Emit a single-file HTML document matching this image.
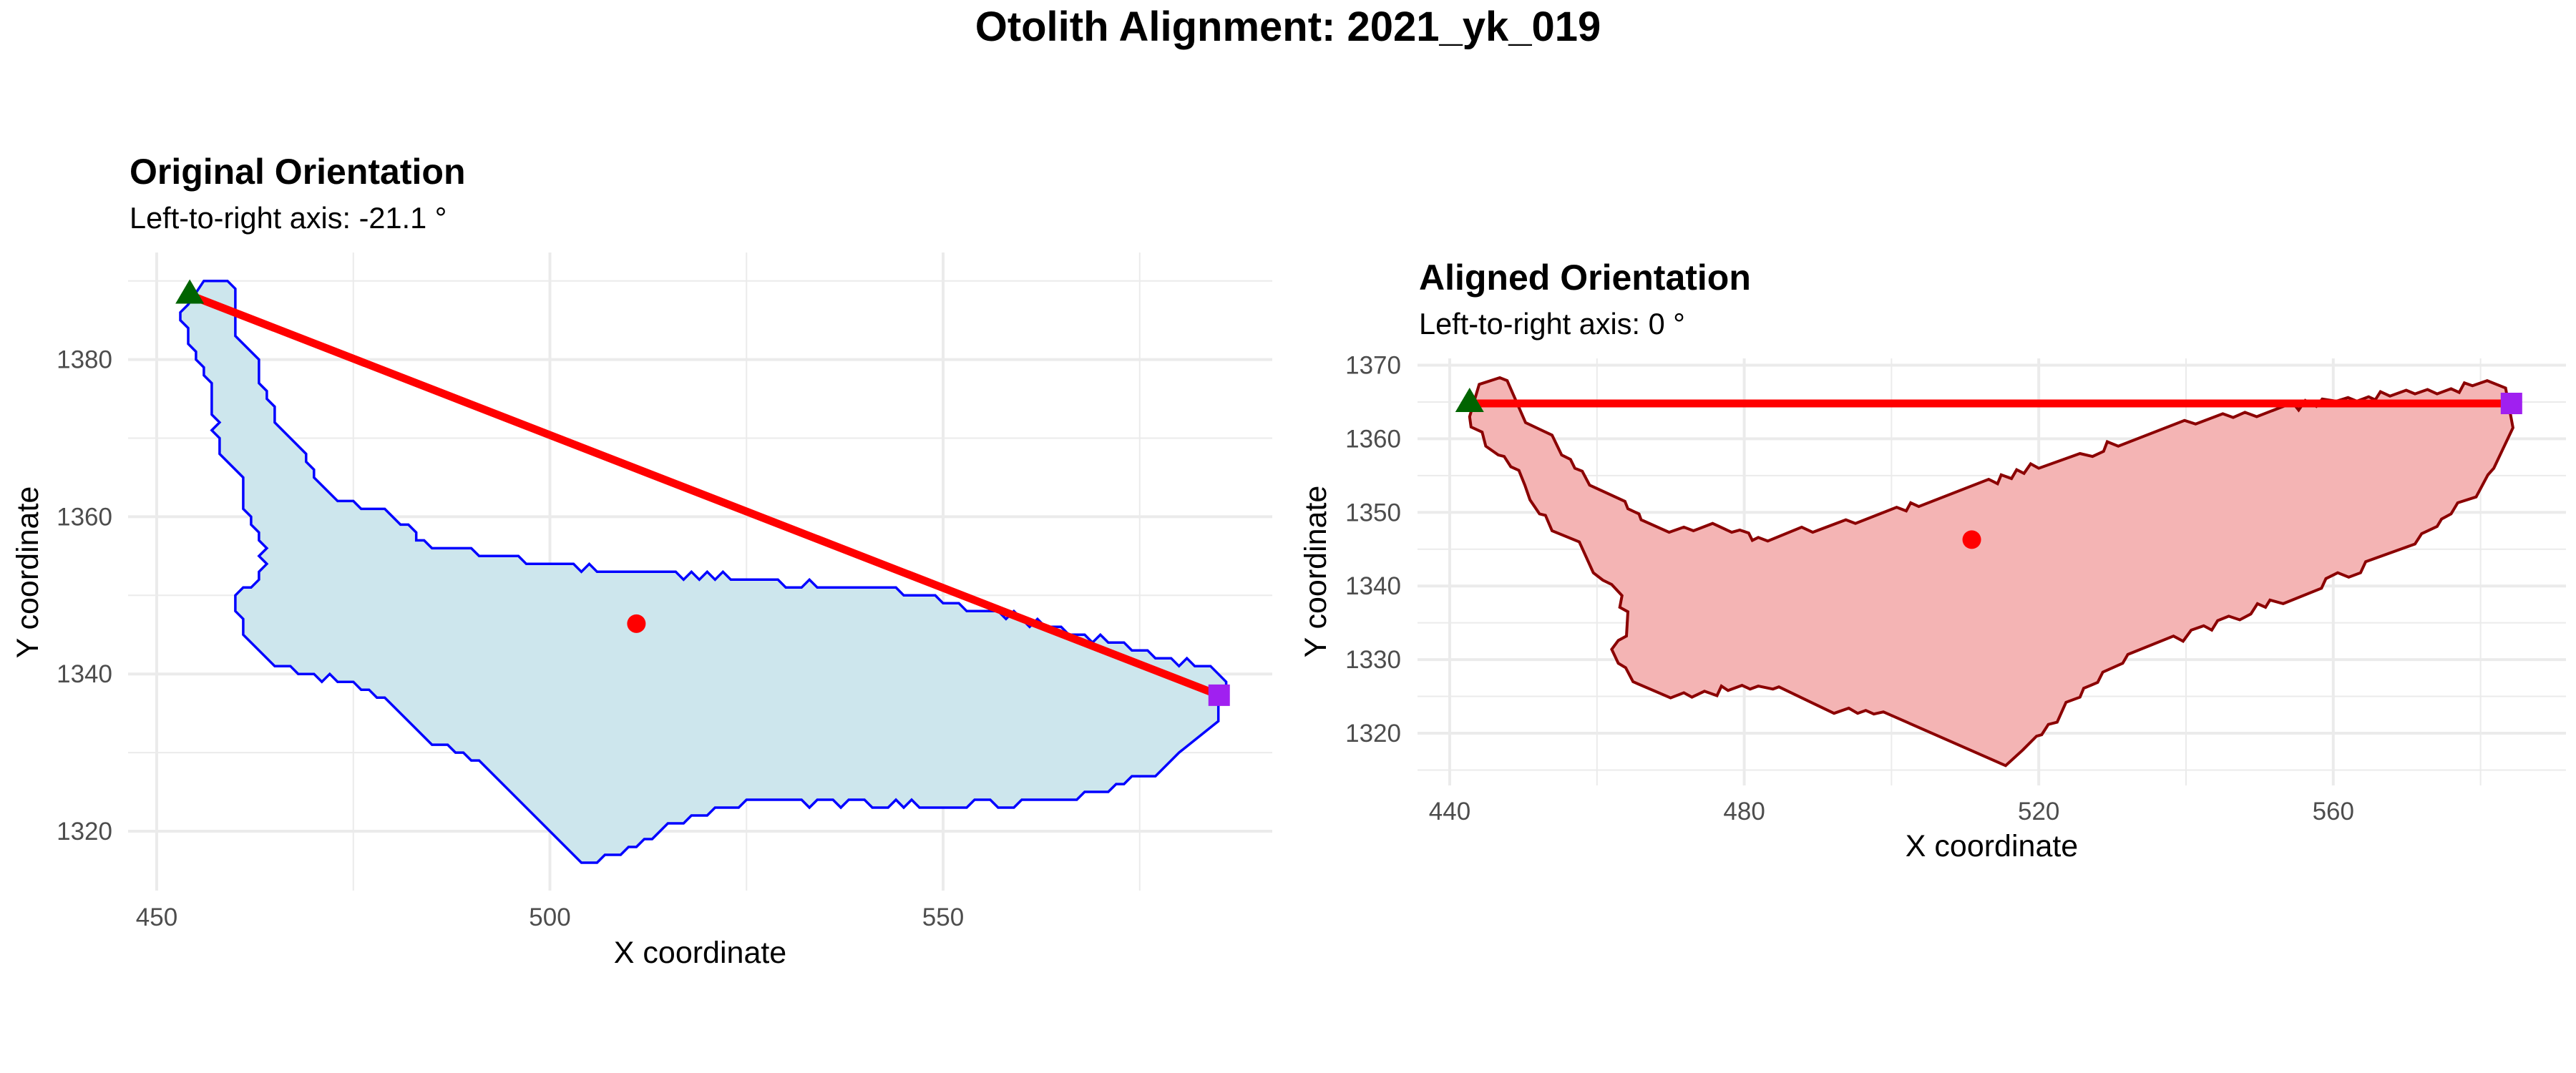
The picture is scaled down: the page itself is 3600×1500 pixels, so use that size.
<!DOCTYPE html>
<html><head><meta charset="utf-8"><style>
html,body{margin:0;padding:0;background:#fff;}
svg{display:block;font-family:"Liberation Sans",sans-serif;}
</style></head><body>
<svg id="chart" width="3600" height="1500" viewBox="0 0 3600 1500" xmlns="http://www.w3.org/2000/svg">
<rect x="0" y="0" width="3600" height="1500" fill="#fff"/>
<text x="1800" y="57" text-anchor="middle" font-size="58" font-weight="bold" fill="#000">Otolith Alignment: 2021_yk_019</text>
<g id="left"></g>
<g id="right"></g>
</svg>
<script>
// ---- Original orientation data ----
const origOutlineX = [456,459,460,460,463,463,464,464,465,465,469,469,470,470,473,475,476,479,481,482,483,483,484,485,490,491,496,497,503,504,505,506,516,517,518,519,520,521,522,523,529,530,532,533,534,544,545,549,550,552,553,557,558,559,560,561,562,563,565,566,568,569,570,571,573,574,576,577,579,580,581,582,584,586,586,585,585,580,579,577,574,573,572,571,568,567,560,559,557,556,554,553,547,546,545,544,543,541,540,538,537,536,534,533,532,525,524,521,520,518,517,515,513,512,511,510,509,507,506,504,491,490,489,488,487,485,479,478,477,476,475,473,472,471,470,468,467,465,461,461,460,460,461,462,463,463,464,463,464,463,463,462,462,461,461,458,458,457,458,457,457,456,456,455,455,454,454,453,453,454];
const origOutlineY = [1390,1390,1389,1383,1380,1377,1376,1375,1374,1372,1368,1367,1366,1365,1362,1362,1361,1361,1359,1359,1358,1357,1357,1356,1356,1355,1355,1354,1354,1353,1354,1353,1353,1352,1353,1352,1353,1352,1353,1352,1352,1351,1351,1352,1351,1351,1350,1350,1349,1349,1348,1348,1347,1348,1347,1346,1347,1346,1346,1345,1345,1344,1345,1344,1344,1343,1343,1342,1342,1341,1342,1341,1341,1339,1338,1337,1334,1330,1329,1327,1327,1326,1326,1325,1325,1324,1324,1323,1323,1324,1324,1323,1323,1324,1323,1324,1323,1323,1324,1324,1323,1324,1324,1323,1324,1324,1323,1323,1322,1322,1321,1321,1319,1319,1318,1318,1317,1317,1316,1316,1329,1329,1330,1330,1331,1331,1337,1337,1338,1338,1339,1339,1340,1339,1340,1340,1341,1341,1345,1347,1348,1350,1351,1351,1352,1353,1354,1355,1356,1357,1358,1359,1360,1361,1365,1368,1370,1371,1372,1373,1377,1378,1379,1380,1381,1382,1384,1385,1386,1387];
const origStart = [454.2, 1388.2];
const origEnd = [585.1, 1337.3];
const origCentroid = [511, 1346.4];
const origXTicks = [450,500,550];
const origXMinor = [475,525,575];
const origYTicks = [1320,1340,1360,1380];
const origYMinor = [1330,1350,1370,1390];
// ---- Aligned orientation data ----
const alignOutlineX = [444,446.8,447.8,450.3,453.9,455.2,456.4,457,458,459,463.8,464.2,465.7,466,469.8,471.8,473.1,475.7,478.3,479.4,480.6,481.1,481.9,483.2,487.8,489.3,493.8,495.1,500.7,502,502.6,503.7,513.2,514.4,514.9,516.3,517,518,518.9,520,525.6,527.3,528.8,529.3,530.8,539.8,541.3,545,546.4,548,549.6,554.5,555.3,556.2,557.7,558.5,560.4,562,563.2,564.8,565.7,566.4,567.7,569.9,571.1,572.8,574.1,576,577.1,577.8,578.9,580.9,583.4,584.4,581.8,581,579.4,576.9,576,574.7,574.1,572,571.1,564.4,563.7,562.1,560.6,559,558.4,553.2,551.4,550.8,549.7,548.8,547.3,545.8,544.3,543.5,542.4,540.7,539.6,538.3,532.1,531.4,528.7,528,526.1,525.6,523.7,522.5,521.3,520.4,519.7,517.8,515.5,498.9,497.6,496.5,495.4,494.2,492.2,484.7,483.9,481.9,480.8,479.7,477.8,476.9,476.3,474.6,472.9,471.8,470,464.9,463.9,462.9,462,462.9,464,464.2,463.1,463.4,462,460.8,459.5,457.6,453.9,453,452.2,450.9,450.2,449.4,448.3,447.4,446.6,444.9,444.4,442.9,442.7];
const alignOutlineY = [1367.4,1368.3,1367.9,1362.2,1360.5,1357.8,1357.2,1356,1355.6,1353.7,1351.5,1350.5,1349.8,1349,1347.3,1348,1347.5,1348.5,1347.3,1347.6,1347.2,1346.2,1346.6,1346.1,1348,1347.3,1349,1348.5,1350.7,1350.2,1351.3,1350.8,1354.5,1353.9,1355.1,1354.6,1355.8,1355.3,1356.6,1356,1358,1357.6,1358.3,1359.6,1359,1362.5,1362,1363.4,1362.9,1363.6,1363,1364.9,1363.9,1365.2,1364.4,1365.4,1365.1,1365.6,1365.1,1365.7,1365.3,1366.4,1365.8,1366.6,1366.1,1366.7,1366.1,1366.8,1366.3,1367.6,1367.2,1367.9,1366.9,1361.5,1356,1355.1,1352.1,1351.3,1349.8,1349.1,1348.1,1347.1,1345.7,1343.3,1341.8,1341.2,1341.8,1341,1339.7,1337.6,1338.1,1337.1,1337.6,1336.2,1335.4,1335.9,1335.3,1334,1334.6,1334,1332.5,1333.2,1330.7,1329.5,1328.3,1326.9,1326.1,1324.9,1324.2,1321.5,1321.2,1319.8,1319.6,1317.7,1315.6,1322.9,1322.6,1323.1,1322.7,1323.4,1322.7,1326.3,1326,1326.4,1326,1326.5,1325.8,1326.4,1325.1,1325.7,1324.9,1325.5,1324.8,1327,1328.9,1329.5,1331.4,1332.6,1333.2,1336.5,1337.1,1338.7,1340.2,1340.8,1341.8,1346,1347.5,1349.6,1349.8,1351.7,1353.7,1355.7,1356.2,1357.6,1357.8,1359,1360.9,1361.6,1363];
const alignStart = [442.7, 1364.8];
const alignEnd = [584.2, 1364.8];
const alignCentroid = [510.9, 1346.3];
const alignXTicks = [440,480,520,560];
const alignXMinor = [460,500,540,580];
const alignYTicks = [1320,1330,1340,1350,1360,1370];
const alignYMinor = [1315,1325,1335,1345,1355,1365];

const NS = "http://www.w3.org/2000/svg";
function mk(parent, tag, attrs, text) {
  const el = document.createElementNS(NS, tag);
  for (const k in attrs) el.setAttribute(k, attrs[k]);
  if (text !== undefined) el.textContent = text;
  parent.appendChild(el);
  return el;
}

function drawPanel(g, cfg) {
  const sx = v => cfg.x0 + (v - cfg.dx0) * cfg.k;
  const sy = v => cfg.y0 - (v - cfg.dy0) * cfg.k;
  cfg.xMinor.forEach(v => {
    const l = mk(g, "line", {x1: sx(v), x2: sx(v), y1: cfg.top, y2: cfg.bottom, stroke: "#ebebeb", "stroke-width": 2});
    
    
  });
  cfg.yMinor.forEach(v => {
    const l = mk(g, "line", {x1: cfg.left, x2: cfg.right, y1: sy(v), y2: sy(v), stroke: "#ebebeb", "stroke-width": 2});
    
    
  });
  cfg.xTicks.forEach(v => {
    const l = mk(g, "line", {x1: sx(v), x2: sx(v), y1: cfg.top, y2: cfg.bottom, stroke: "#ebebeb", "stroke-width": 4});
    
    
    const t = mk(g, "text", {x: sx(v), y: cfg.xLabelY, "text-anchor": "middle", "font-size": 35, fill: "#4d4d4d"}, String(v));
    
    
  });
  cfg.yTicks.forEach(v => {
    const l = mk(g, "line", {x1: cfg.left, x2: cfg.right, y1: sy(v), y2: sy(v), stroke: "#ebebeb", "stroke-width": 4});
    
    
    const t = mk(g, "text", {x: cfg.yLabelX, y: sy(v) + 12, "text-anchor": "end", "font-size": 35, fill: "#4d4d4d"}, String(v));
    
    
  });
  const pts = cfg.ox.map((x, i) => sx(x).toFixed(1) + "," + sy(cfg.oy[i]).toFixed(1)).join(" ");
  const poly = mk(g, "polygon", {points: pts, fill: cfg.fill, stroke: cfg.stroke, "stroke-width": cfg.sw, "stroke-linejoin": "miter"});
  
  
  const ln = mk(g, "line", {x1: sx(cfg.start[0]), y1: sy(cfg.start[1]), x2: sx(cfg.end[0]), y2: sy(cfg.end[1]), stroke: "#ff0000", "stroke-width": 11});
  
  
  const c = mk(g, "circle", {cx: sx(cfg.cen[0]), cy: sy(cfg.cen[1]), r: 13, fill: "#ff0000"});
  
  
  const tx = sx(cfg.start[0]), ty = sy(cfg.start[1]);
  const tri = mk(g, "polygon", {points: `${tx},${ty-22} ${tx-20},${ty+12} ${tx+20},${ty+12}`, fill: "#006400"});
  
  
  const ex = sx(cfg.end[0]), ey = sy(cfg.end[1]);
  const sq = mk(g, "rect", {x: ex - 15, y: ey - 15, width: 30, height: 30, fill: "#a020f0"});
  
  
  const tt = mk(g, "text", {x: cfg.left + 2, y: cfg.titleY, "font-size": 50, "font-weight": "bold", fill: "#000"}, cfg.title);
  
  
  const st = mk(g, "text", {x: cfg.left + 2, y: cfg.titleY + 62, "font-size": 41.5, fill: "#000"}, cfg.subtitle);
  
  
  const xt = mk(g, "text", {x: (cfg.left + cfg.right) / 2, y: cfg.xTitleY, "text-anchor": "middle", "font-size": 43, fill: "#000"}, "X coordinate");
  
  
  const yt = mk(g, "text", {x: 0, y: 0, "text-anchor": "middle", "font-size": 43, fill: "#000", transform: `translate(${cfg.yTitleX},${cfg.yTitleCY}) rotate(-90)`}, "Y coordinate");
  
  
}

drawPanel(document.getElementById("left"), {
  x0: 219, dx0: 450, y0: 1162, dy0: 1320, k: 10.99,
  left: 179, right: 1778, top: 353, bottom: 1245,
  xTicks: origXTicks, xMinor: origXMinor, yTicks: origYTicks, yMinor: origYMinor,
  xLabelY: 1294, yLabelX: 157,
  ox: origOutlineX, oy: origOutlineY, fill: "#cde6ed", stroke: "#0000ff", sw: 3.5,
  start: origStart, end: origEnd, cen: origCentroid,
  title: "Original Orientation", subtitle: "Left-to-right axis: -21.1 °", titleY: 257,
  xTitleY: 1346, yTitleX: 53, yTitleCY: 800
});
drawPanel(document.getElementById("right"), {
  x0: 2026, dx0: 440, y0: 1025, dy0: 1320, k: 10.29,
  left: 1981, right: 3586, top: 501, bottom: 1098,
  xTicks: alignXTicks, xMinor: alignXMinor, yTicks: alignYTicks, yMinor: alignYMinor,
  xLabelY: 1146, yLabelX: 1958,
  ox: alignOutlineX, oy: alignOutlineY, fill: "#f4b4b4", stroke: "#8b0000", sw: 4,
  start: alignStart, end: alignEnd, cen: alignCentroid,
  title: "Aligned Orientation", subtitle: "Left-to-right axis: 0 °", titleY: 405,
  xTitleY: 1197, yTitleX: 1853, yTitleCY: 799
});
</script>
</body></html>
